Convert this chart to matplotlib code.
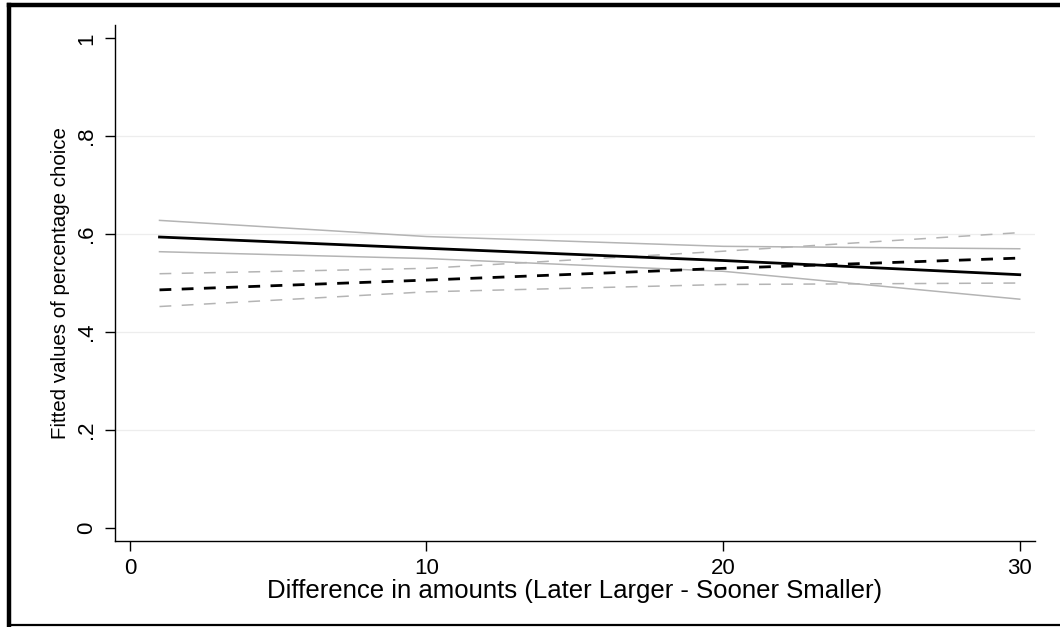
import matplotlib
matplotlib.use('Agg')
import matplotlib.pyplot as plt
from matplotlib.lines import Line2D

plt.rcParams.update({
    'font.family': ['Liberation Sans', 'DejaVu Sans'],
    'lines.scale_dashes': False,
})

# ── Fitted values ──────────────────────────────────────────────────
x_pts = [1, 10, 20, 30]
# solid group (fit and 95% CI)
fit_solid = [0.594, 0.571, 0.546, 0.517]
ci_solid_hi = [0.628, 0.595, 0.575, 0.570]
ci_solid_lo = [0.564, 0.550, 0.524, 0.467]
# dashed group (fit and 95% CI)
fit_dash = [0.486, 0.506, 0.530, 0.551]
ci_dash_hi = [0.519, 0.530, 0.565, 0.603]
ci_dash_lo = [0.452, 0.482, 0.497, 0.500]

x_ticks = [0, 10, 20, 30]
y_ticks = [0, 0.2, 0.4, 0.6, 0.8, 1.0]
y_ticklabels = ['0', '.2', '.4', '.6', '.8', '1']
grid_vals = [0.2, 0.4, 0.6, 0.8]

GRAY = '#b4b4b4'
DASH = (0, (8.5, 7.5))

fig = plt.figure(figsize=(10.6, 6.27), dpi=100)
ax = fig.add_axes([0.1085, 0.1372, 0.8675, 0.8228])

for g in grid_vals:
    ax.axhline(g, color='#ededed', lw=0.9, zorder=0)

ax.plot(x_pts, ci_solid_hi, color=GRAY, lw=1.1, zorder=2)
ax.plot(x_pts, ci_solid_lo, color=GRAY, lw=1.1, zorder=2)
ax.plot(x_pts, ci_dash_hi, color=GRAY, lw=1.1, ls=DASH, zorder=2)
ax.plot(x_pts, ci_dash_lo, color=GRAY, lw=1.1, ls=DASH, zorder=2)
ax.plot(x_pts, fit_solid, color='black', lw=2.0, zorder=3)
ax.plot(x_pts, fit_dash, color='black', lw=2.0, ls=DASH, zorder=3)

ax.set_xlim(-0.5, 30.5)
ax.set_ylim(-0.027, 1.027)
ax.set_xticks(x_ticks)
ax.set_yticks(y_ticks)
ax.set_yticklabels(y_ticklabels, rotation=90, va='center')
ax.tick_params(axis='both', direction='out', length=7, width=1.0)
ax.tick_params(axis='x', labelsize=16, pad=5)
ax.tick_params(axis='y', labelsize=16, pad=6)
ax.spines['top'].set_visible(False)
ax.spines['right'].set_visible(False)
ax.spines['left'].set_linewidth(1.0)
ax.spines['bottom'].set_linewidth(1.0)

ax.set_xlabel('Difference in amounts (Later Larger - Sooner Smaller)',
              fontsize=18.5, labelpad=0)
ax.set_ylabel('Fitted values of percentage choice', fontsize=14.8, labelpad=4)

# figure frame (top, left, bottom)
fig.add_artist(Line2D([9 / 1060, 1.0], [1 - 4.5 / 627, 1 - 4.5 / 627],
                      color='black', lw=3.2, transform=fig.transFigure))
fig.add_artist(Line2D([9 / 1060, 9 / 1060], [1 - 4.5 / 627, 2 / 627],
                      color='black', lw=3.2, transform=fig.transFigure))
fig.add_artist(Line2D([9 / 1060, 1.0], [2 / 627, 2 / 627],
                      color='black', lw=1.6, transform=fig.transFigure))

fig.savefig('out.png', dpi=100)
